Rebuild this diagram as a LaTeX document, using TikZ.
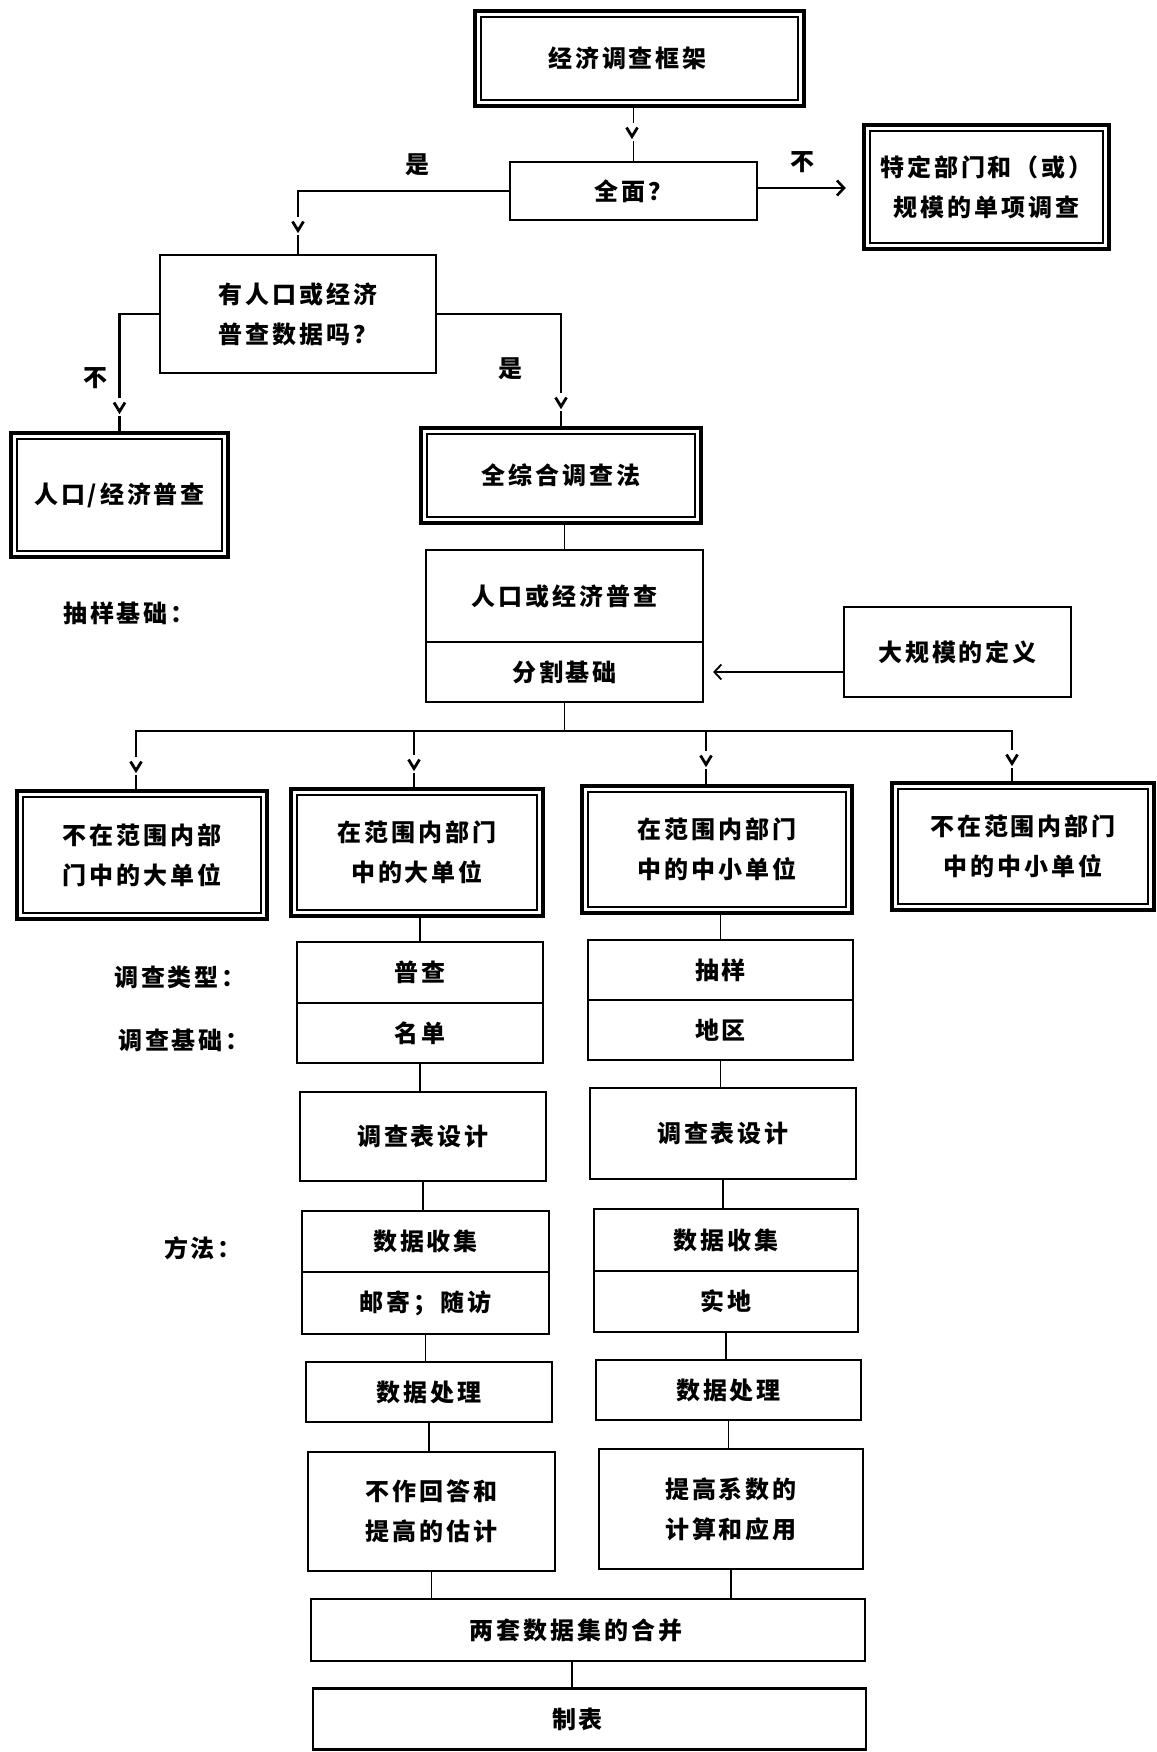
\documentclass[tikz,border=0pt]{standalone}
\usepackage{fontspec}
\newfontfamily\cjk{Noto Sans CJK SC}[LetterSpace=12]
\usetikzlibrary{arrows.meta,calc}
\begin{document}
\begin{tikzpicture}[x=1pt,y=-1pt,
  txt/.style={font=\cjk\bfseries\fontsize{24}{40}\selectfont},
  base/.style={txt, rectangle, draw, line width=2.2pt, inner sep=0pt, align=center},
  dbl/.style={base, line width=4.5pt,
    path picture={\draw[line width=1.5pt] ([shift={(6pt,-6pt)}]path picture bounding box.north west) rectangle ([shift={(-6pt,6pt)}]path picture bounding box.south east);}},
  lbl/.style={txt, inner sep=0pt},
  conn/.style={line width=1.8pt},
  heavy/.style={line width=2.6pt},
  tipto/.style={-{Straight Barb[length=7pt,width=15pt]}},
  vmk/.pic={\fill[white] (-9,-9) rectangle (9,9); \draw[line width=2.8pt, line join=miter] (-5.5,-4.5) -- (0,4.5) -- (5.5,-4.5);}
]
\useasboundingbox[fill=white] (0,0) rectangle (1156,1752);

% boxes
\node[dbl, minimum width=329pt, minimum height=95pt] (top) at (639.5,58.5) {经济调查框架\hspace*{24pt}};
\node[base, minimum width=247pt, minimum height=58pt] (mian) at (633.5,191) {全面？};
\node[dbl, minimum width=245pt, minimum height=124pt] (spec) at (986.5,187) {特定部门和（或）\\规模的单项调查};
\node[base, minimum width=276pt, minimum height=118pt] (youren) at (298,314) {有人口或经济\\普查数据吗？};
\node[dbl, minimum width=217pt, minimum height=124pt] (renkou) at (119.5,495) {人口/经济普查};
\node[dbl, minimum width=280pt, minimum height=95pt] (quanzong) at (561,475.5) {全综合调查法};
\node[base, minimum width=277pt, minimum height=92pt] (census) at (564.5,596) {人口或经济普查};
\node[base, minimum width=277pt, minimum height=60pt] (split) at (564.5,672) {分割基础};
\node[base, minimum width=227pt, minimum height=90pt] (dadef) at (957.5,652) {大规模的定义};

\node[dbl, minimum width=250pt, minimum height=128pt] (B1) at (142,855) {不在范围内部\\门中的大单位};
\node[dbl, minimum width=252pt, minimum height=127pt] (B2) at (417,852.5) {在范围内部门\\中的大单位};
\node[dbl, minimum width=270pt, minimum height=127pt] (B3) at (717,849.5) {在范围内部门\\中的中小单位};
\node[dbl, minimum width=262pt, minimum height=127pt] (B4) at (1023,846.5) {不在范围内部门\\中的中小单位};

% left column
\node[base, minimum width=246pt, minimum height=61pt] (pucha) at (420,972.5) {普查};
\node[base, minimum width=246pt, minimum height=60pt] (mingdan) at (420,1033) {名单};
\node[base, minimum width=246pt, minimum height=89pt] (shejiL) at (423,1136.5) {调查表设计};
\node[base, minimum width=247pt, minimum height=61pt] (shoujiL) at (425.5,1241.5) {数据收集};
\node[base, minimum width=247pt, minimum height=62pt] (youji) at (425.5,1303) {邮寄；随访};
\node[base, minimum width=246pt, minimum height=60pt] (chuliL) at (429,1392) {数据处理};
\node[base, minimum width=247pt, minimum height=119pt] (buzuo) at (431.5,1511.5) {不作回答和\\提高的估计};

% right column
\node[base, minimum width=265pt, minimum height=60pt] (chouyang) at (720.5,970) {抽样};
\node[base, minimum width=265pt, minimum height=60pt] (diqu) at (720.5,1030) {地区};
\node[base, minimum width=266pt, minimum height=91pt] (shejiR) at (723,1133.5) {调查表设计};
\node[base, minimum width=264pt, minimum height=62pt] (shoujiR) at (726,1240) {数据收集};
\node[base, minimum width=264pt, minimum height=61pt] (shidi) at (726,1301.5) {实地};
\node[base, minimum width=265pt, minimum height=60pt] (chuliR) at (728.5,1390) {数据处理};
\node[base, minimum width=264pt, minimum height=120pt] (tigao) at (731,1509) {提高系数的\\计算和应用};

% bottom
\node[base, minimum width=554pt, minimum height=62pt] (hebing) at (588,1630) {两套数据集的合并\hspace*{24pt}};
\node[base, minimum width=553pt, minimum height=61pt] (zhibiao) at (589.5,1719) {制表\hspace*{24pt}};

% labels
\node[lbl] (shi1) at (417,165) {是};
\node[lbl] (bu1) at (802,162) {不};
\node[lbl] (bu2) at (95,378) {不};
\node[lbl] (shi2) at (510,369) {是};
\node[lbl] (l1) at (129,613) {抽样基础：};
\node[lbl] (l2) at (180,977) {调查类型：};
\node[lbl] (l3) at (184,1040) {调查基础：};
\node[lbl] (l4) at (203,1248) {方法：};

% connectors
\draw[conn] (top.south -| mian.north) -- (mian.north);
\draw[heavy] (mian.west) -| (youren.north);
\draw[heavy, tipto, shorten >=16pt] (mian.east |- 0,188) -- (spec.west |- 0,188);
\draw[heavy] (youren.west) -| (renkou.north);
\draw[heavy] (youren.east) -| (quanzong.north);
\draw[conn] (quanzong.south -| census.north) -- (census.north);
\draw[conn, tipto, shorten >=9pt] (dadef.west |- split.east) -- (split.east);

\coordinate (j1) at (136,731);
\coordinate (j2) at (414,731);
\coordinate (j3) at (706,731);
\coordinate (j4) at (1012,731);
\draw[conn] (split.south) -- (split.south |- j1);
\draw[heavy] (j1 |- B1.north) -- (j1) -- (j4) -- (j4 |- B4.north);
\draw[conn] (j2) -- (j2 |- B2.north);
\draw[conn] (j3) -- (j3 |- B3.north);

\draw[conn] (B2.south -| pucha.north) -- (pucha.north);
\draw[conn] (mingdan.south) -- (mingdan.south |- shejiL.north);
\draw[conn] (shejiL.south) -- (shejiL.south |- shoujiL.north);
\draw[conn] (youji.south) -- (youji.south |- chuliL.north);
\draw[conn] (chuliL.south) -- (chuliL.south |- buzuo.north);
\draw[conn] (buzuo.south) -- (buzuo.south |- hebing.north);

\draw[conn] (B3.south -| chouyang.north) -- (chouyang.north);
\draw[conn] (diqu.south) -- (diqu.south |- shejiR.north);
\draw[conn] (shejiR.south) -- (shejiR.south |- shoujiR.north);
\draw[conn] (shidi.south) -- (shidi.south |- chuliR.north);
\draw[conn] (chuliR.south) -- (chuliR.south |- tigao.north);
\draw[conn] (tigao.south) -- (tigao.south |- hebing.north);

\draw[conn] ([xshift=-16pt]hebing.south) -- ([xshift=-16pt]hebing.south |- zhibiao.north);

% arrow marks
\pic at (632,132) {vmk};
\pic at (298,226) {vmk};
\pic at (119.5,407) {vmk};
\pic at (561,402) {vmk};
\pic at (136,766) {vmk};
\pic at (414,764) {vmk};
\pic at (706,760) {vmk};
\pic at (1012,759) {vmk};
\end{tikzpicture}
\end{document}
